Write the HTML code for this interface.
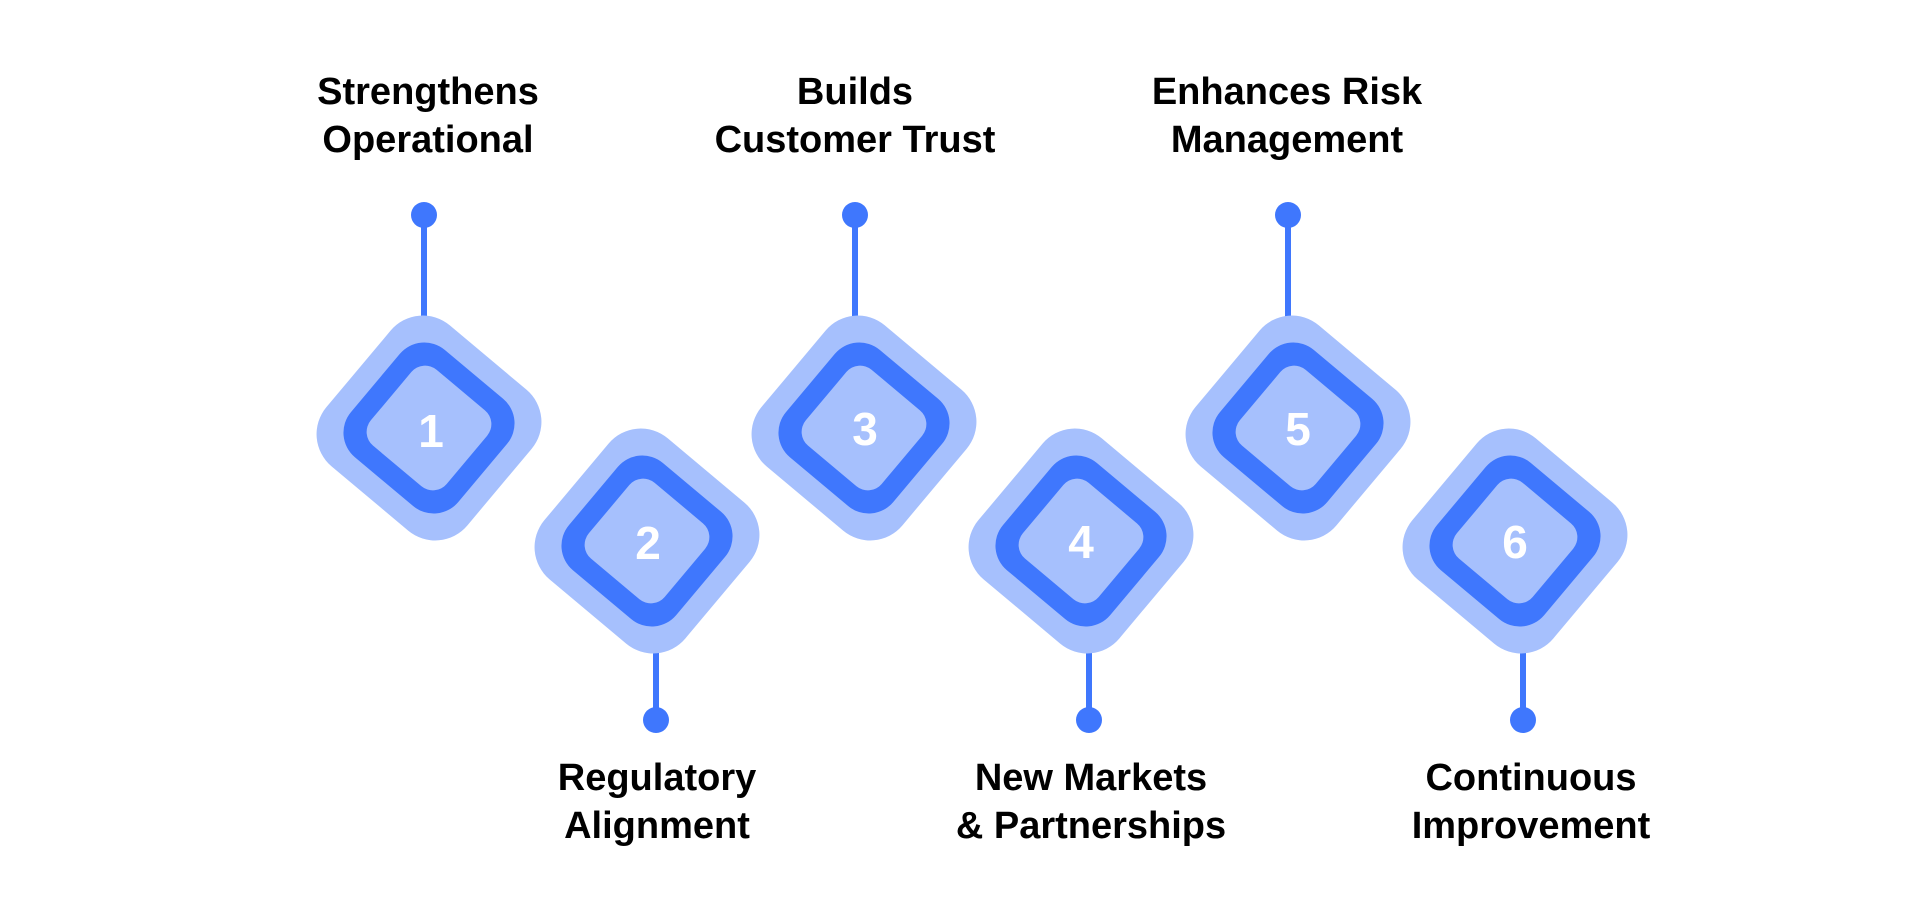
<!DOCTYPE html>
<html><head><meta charset="utf-8"><style>
html,body{margin:0;padding:0;background:#fff;width:1920px;height:903px;overflow:hidden;position:relative;font-family:"Liberation Sans",sans-serif}
.d{position:absolute;transform:translate(-50%,-50%) rotate(40deg);display:flex;align-items:center;justify-content:center}
.o{width:184px;height:184px;background:#a6c0fd;border-radius:42px}
.m{width:140px;height:140px;background:#3f77fd;border-radius:32px}
.i{width:99px;height:99px;background:#a6c0fd;border-radius:18px}
.n{position:absolute;transform:translate(-50%,-50%);color:#fff;font-weight:bold;font-size:46px;line-height:1}
.ln{position:absolute;width:6px;background:#3f77fd;transform:translateX(-50%)}
.dot{position:absolute;width:26px;height:26px;border-radius:50%;background:#3f77fd;transform:translate(-50%,-50%)}
.t{position:absolute;transform:translateX(-50%);text-align:center;font-weight:bold;font-size:38px;line-height:48px;color:#000;white-space:nowrap}
</style></head><body>
<div class="ln" style="left:424px;top:215px;height:110px"></div><div class="dot" style="left:424px;top:215px"></div>
<div class="ln" style="left:855px;top:215px;height:110px"></div><div class="dot" style="left:855px;top:215px"></div>
<div class="ln" style="left:1288px;top:215px;height:110px"></div><div class="dot" style="left:1288px;top:215px"></div>
<div class="ln" style="left:656px;top:620px;height:100px"></div><div class="dot" style="left:656px;top:720px"></div>
<div class="ln" style="left:1089px;top:620px;height:100px"></div><div class="dot" style="left:1089px;top:720px"></div>
<div class="ln" style="left:1523px;top:620px;height:100px"></div><div class="dot" style="left:1523px;top:720px"></div>

<div class="d o" style="left:429px;top:428px"></div><div class="d m" style="left:429px;top:428px"></div><div class="d i" style="left:429px;top:428px"></div><div class="n" style="left:431px;top:431px">1</div>
<div class="d o" style="left:647px;top:541px"></div><div class="d m" style="left:647px;top:541px"></div><div class="d i" style="left:647px;top:541px"></div><div class="n" style="left:648px;top:543px">2</div>
<div class="d o" style="left:864px;top:428px"></div><div class="d m" style="left:864px;top:428px"></div><div class="d i" style="left:864px;top:428px"></div><div class="n" style="left:865px;top:429px">3</div>
<div class="d o" style="left:1081px;top:541px"></div><div class="d m" style="left:1081px;top:541px"></div><div class="d i" style="left:1081px;top:541px"></div><div class="n" style="left:1081px;top:542px">4</div>
<div class="d o" style="left:1298px;top:428px"></div><div class="d m" style="left:1298px;top:428px"></div><div class="d i" style="left:1298px;top:428px"></div><div class="n" style="left:1298px;top:429px">5</div>
<div class="d o" style="left:1515px;top:541px"></div><div class="d m" style="left:1515px;top:541px"></div><div class="d i" style="left:1515px;top:541px"></div><div class="n" style="left:1515px;top:542px">6</div>

<div class="t" style="left:428px;top:68px">Strengthens<br>Operational</div>
<div class="t" style="left:855px;top:68px">Builds<br>Customer Trust</div>
<div class="t" style="left:1287px;top:68px">Enhances Risk<br>Management</div>
<div class="t" style="left:657px;top:754px">Regulatory<br>Alignment</div>
<div class="t" style="left:1091px;top:754px">New Markets<br>&amp; Partnerships</div>
<div class="t" style="left:1531px;top:754px">Continuous<br>Improvement</div>
</body></html>
